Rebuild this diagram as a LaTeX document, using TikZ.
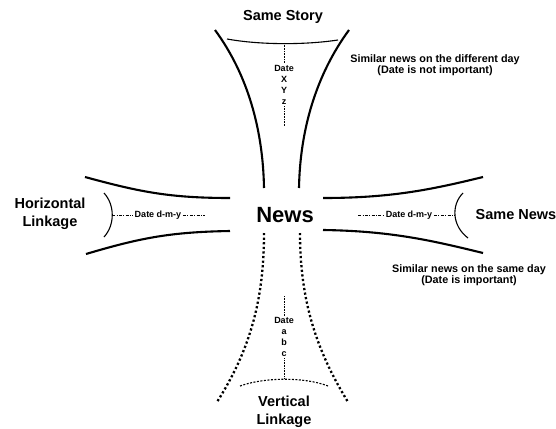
\documentclass[tikz,border=0pt]{standalone}
\usepackage{fontspec}
\setmainfont{Liberation Sans}
\usepackage{tikz}

\tikzset{
  arm/.style={line width=2.1pt},
  dotarm/.style={line width=2.3pt, dash pattern=on 2.2pt off 2.4pt},
  rim/.style={line width=1.1pt},
  dotrim/.style={line width=1.1pt, dash pattern=on 2pt off 1.5pt},
  datelink/.style={line width=0.6pt, dash pattern=on 3pt off 1.5pt on 0.8pt off 1.5pt},
  dotlink/.style={line width=0.6pt, densely dotted},
  heading/.style={font=\fontsize{14.5}{18.5}\selectfont\bfseries, align=center},
  note/.style={font=\fontsize{10.8}{11}\selectfont\bfseries, align=center},
  datelbl/.style={font=\fontsize{9}{11}\selectfont\bfseries, align=center, inner sep=1.5pt},
}

\begin{document}
\begin{tikzpicture}[x=1pt,y=-1pt]
\useasboundingbox (0,0) rectangle (556,428);

% centre
\node[font=\fontsize{22}{22}\selectfont\bfseries] (news) at (285,215) {News};

% top arm
\node[heading] (story) at (283,17) {Same Story};
\node[note] (diffday) at (435,65) {Similar news on the different day\\(Date is not important)};
\draw[arm] (215,30) .. controls (248,75) and (263,130) .. (264,188);
\draw[arm] (349,30) .. controls (316,75) and (300,130) .. (299,188);
\draw[rim] (227,39) .. controls (260,45) and (305,45) .. (338,40);
\coordinate (ttop) at (284,43);
\coordinate (tbot) at (284,126);
\node[datelbl] (tdate) at (284,85) {Date\\X\\Y\\z};
\draw[dotlink] (ttop) -- (tdate.north);
\draw[dotlink] (tdate.south) -- (tbot);

% left arm
\node[heading] (hlink) at (50,214) {Horizontal\\Linkage};
\draw[arm] (85,177) .. controls (140,192) and (170,198) .. (230,198);
\draw[arm] (86,254) .. controls (140,238) and (170,232) .. (230,231);
\draw[rim] (104,193) .. controls (115,205) and (115,225) .. (104,237);
\coordinate (lend) at (112,215);
\coordinate (lin) at (205,215);
\node[datelbl] (ldate) at (158,215) {Date d-m-y};
\draw[datelink] (lend) -- (ldate.west);
\draw[datelink] (ldate.east) -- (lin);

% right arm
\node[heading] (samenews) at (516,215) {Same News};
\node[note] (sameday) at (469,275) {Similar news on the same day\\(Date is important)};
\draw[arm] (323,198) .. controls (390,198) and (430,190) .. (483,177);
\draw[arm] (323,230) .. controls (390,231) and (430,240) .. (483,253);
\draw[rim] (463,193) .. controls (451,205) and (452,226) .. (468,238);
\coordinate (rend) at (455,215);
\coordinate (rin) at (358,215);
\node[datelbl] (rdate) at (409,215) {Date d-m-y};
\draw[datelink] (rin) -- (rdate.west);
\draw[datelink] (rdate.east) -- (rend);

% bottom arm
\node[heading] (vlink) at (284,412) {Vertical\\Linkage};
\draw[dotarm] (264,233) .. controls (264,300) and (250,350) .. (217,402);
\draw[dotarm] (300,233) .. controls (300,300) and (316,350) .. (348,402);
\draw[dotrim] (240,386) .. controls (265,377) and (305,377) .. (328,386);
\coordinate (bin) at (284,296);
\coordinate (bend) at (284,379);
\node[datelbl] (bdate) at (284,337) {Date\\a\\b\\c};
\draw[dotlink] (bin) -- (bdate.north);
\draw[dotlink] (bdate.south) -- (bend);
\end{tikzpicture}
\end{document}
